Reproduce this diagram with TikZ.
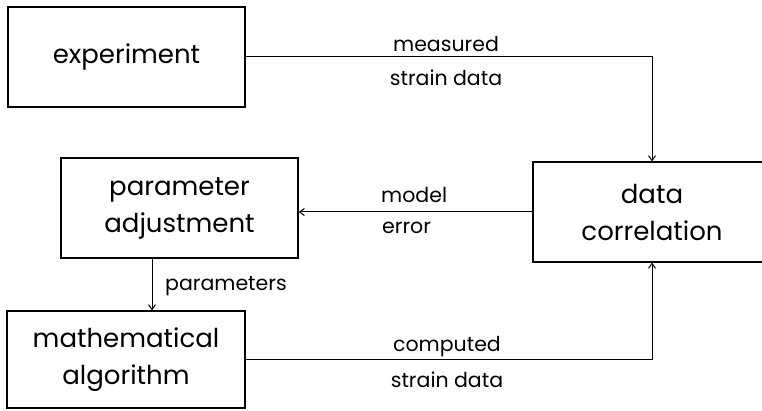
\documentclass[tikz,border=0pt]{standalone}
\usepackage{fontspec}
\setmainfont{Poppins}
\usetikzlibrary{arrows.meta}
\begin{document}
\begin{tikzpicture}[x=1pt,y=-1pt,
  blk/.style={draw,line width=1.1pt,minimum width=237pt,minimum height=100pt,inner sep=0pt,align=center,font=\fontsize{26}{37}\selectfont},
  lbl/.style={inner sep=0pt,font=\fontsize{20.5}{24}\selectfont},
  arr/.style={line width=1pt,-{Straight Barb[length=5pt,width=7pt]}}]
\useasboundingbox (0,0) rectangle (762,411);
\clip (0,0) rectangle (762,411);
\node[blk] (exp) at (126.5,57) {experiment};
\node[blk] (pa) at (179.5,208) {parameter\\adjustment};
\node[blk,minimum width=238pt,minimum height=97pt] (ma) at (126,359.5) {mathematical\\algorithm};
\node[blk,minimum width=238pt] (dc) at (652,212) {data\\correlation};
\draw[arr] (exp.east) -| (dc.north);
\draw[arr] (dc.west) -- (dc.west -| pa.east);
\draw[arr] (pa.south -| 152,0) -- (ma.north -| 152,0);
\draw[arr] (ma.east) -| (dc.south);
\node[lbl] (l1) at (446,44) {measured};
\node[lbl] (l2) at (446,78) {strain data};
\node[lbl,anchor=west] (l3) at (381,195) {model};
\node[lbl,anchor=west] (l4) at (382,228) {error};
\node[lbl,anchor=west] (l5) at (165,286) {parameters};
\node[lbl] (l6) at (447,347) {computed};
\node[lbl] (l7) at (447,380) {strain data};
\end{tikzpicture}
\end{document}
